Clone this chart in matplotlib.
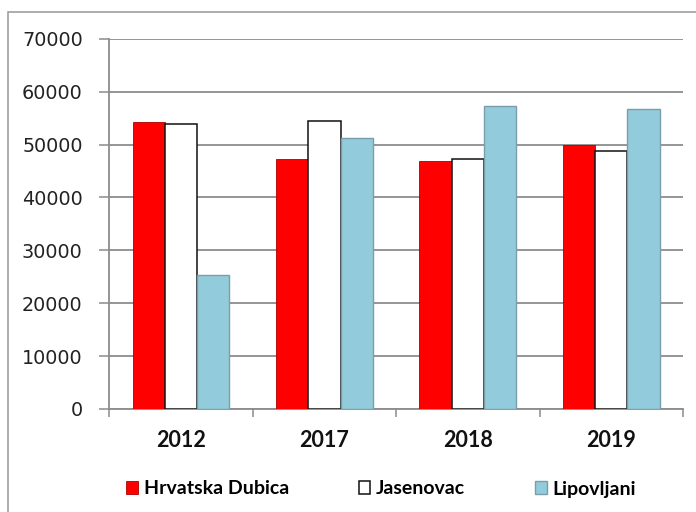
import matplotlib.pyplot as plt
import numpy as np
from matplotlib.patches import Rectangle

years = ['2012', '2017', '2018', '2019']
series_names = ['Hrvatska Dubica', 'Jasenovac', 'Lipovljani']
hrvatska_dubica = [54300, 47350, 46800, 50000]
jasenovac = [53900, 54400, 47250, 48850]
lipovljani = [25350, 51250, 57200, 56650]
yticks = [0, 10000, 20000, 30000, 40000, 50000, 60000, 70000]

fig = plt.figure(figsize=(6.96, 5.12), dpi=100)

# outer frame of the chart object (cut at right and bottom)
fig.patches.append(Rectangle((8 / 696, -0.1), 1.2, 0.1 + (512 - 12) / 512,
                             transform=fig.transFigure, fill=False,
                             edgecolor='#a0a0a0', linewidth=1.2))

ax = fig.add_axes([109.3 / 696, (512 - 409) / 512, (683 - 109.3) / 696, (409 - 38.7) / 512])

x = np.arange(len(years))
w = 0.225
b1 = ax.bar(x - w, hrvatska_dubica, w, color='#ff0000', edgecolor='#b00000', linewidth=0.6, zorder=3)
b2 = ax.bar(x, jasenovac, w, color='white', edgecolor='#111111', linewidth=1.1, zorder=3)
b3 = ax.bar(x + w, lipovljani, w, color='#92cbdc', edgecolor='#7a9ea8', linewidth=1.0, zorder=3)

ax.set_xlim(-0.5, len(years) - 0.5)
ax.set_ylim(0, 70000)
ax.set_yticks(yticks)
ax.set_yticklabels([str(v) for v in yticks], fontsize=13.8, family='DejaVu Sans', color='#222222')
ax.yaxis.grid(True, color='#8c8c8c', linewidth=1.3, zorder=0)
ax.tick_params(axis='y', length=7.2, width=1.1, color='#8c8c8c', pad=12)

ax.set_xticks(x)
ax.set_xticklabels(years, fontsize=15.5, family='Lato', fontweight='bold', color='#111111')
ax.set_xticks(np.arange(len(years) + 1) - 0.5, minor=True)
ax.tick_params(axis='x', which='major', length=0, pad=15)
ax.tick_params(axis='x', which='minor', length=5.8, width=1.1, color='#8c8c8c')

for side in ['top', 'right']:
    ax.spines[side].set_visible(False)
for side in ['left', 'bottom']:
    ax.spines[side].set_color('#8c8c8c')
    ax.spines[side].set_linewidth(1.3)

leg = fig.legend([b1, b2, b3], series_names, loc='center', bbox_to_anchor=(381 / 696, 1 - 489 / 512),
                 ncol=3, frameon=False, prop={'family': 'Lato', 'weight': 'bold', 'size': 14},
                 handlelength=0.6, handleheight=0.67, handletextpad=0.28, columnspacing=3.6,
                 borderpad=0)

fig.savefig('out.png', dpi=100)
